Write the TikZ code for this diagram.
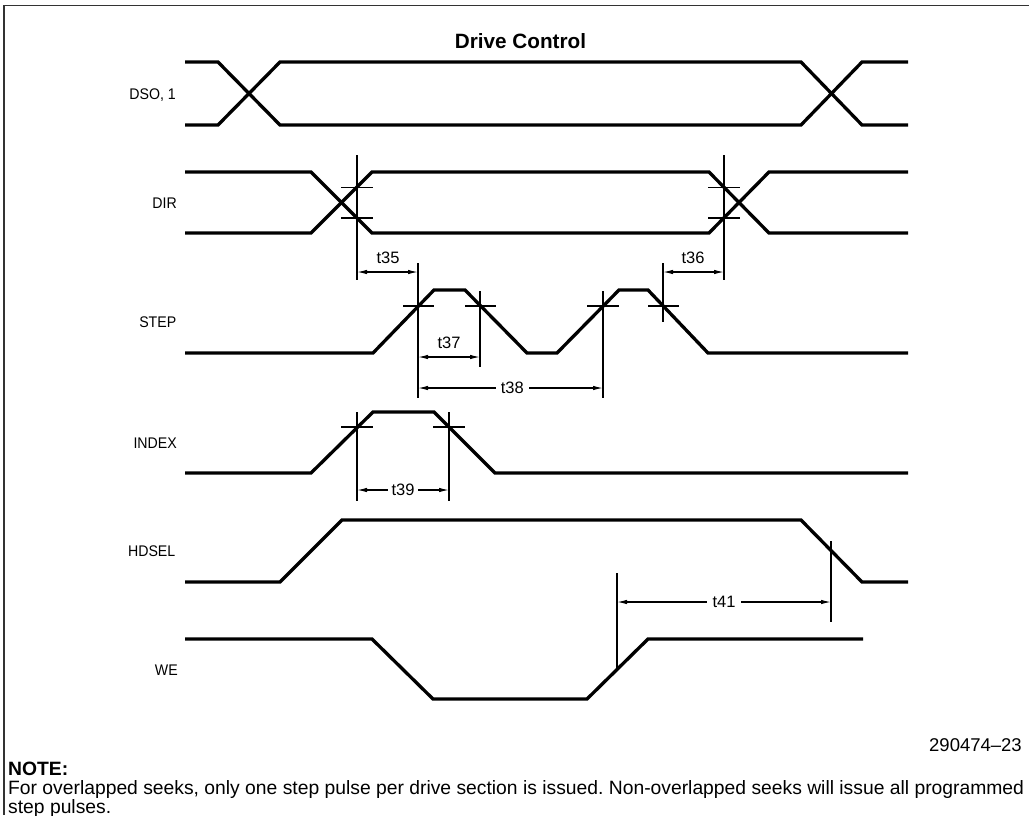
\documentclass[tikz,border=0pt]{standalone}
\usepackage{fontspec}
\setmainfont{Liberation Sans}
\newfontfamily\labfont[FakeStretch=0.92]{Liberation Sans}
\usetikzlibrary{arrows.meta}
\frenchspacing
\begin{document}
\begin{tikzpicture}[x=1pt,y=-1pt,
  wave/.style={line width=3.3pt},
  marker/.style={line width=1.2pt},
  dim/.style={line width=1.2pt,{Latex[length=10pt,width=4.5pt]}-{Latex[length=10pt,width=4.5pt]}},
  sig/.style={font=\labfont\fontsize{15.4}{15.4}\selectfont, anchor=base east, inner sep=0pt},
  tlab/.style={font=\fontsize{16.5}{16.5}\selectfont, inner sep=0pt},
  tgap/.style={font=\fontsize{16.5}{16.5}\selectfont, fill=white, inner xsep=5pt, inner ysep=1pt},
  note/.style={font=\fontsize{19.3}{19.3}\selectfont, anchor=base west, inner sep=0pt}]
\useasboundingbox (0,0) rectangle (1029,815);
% frame
\draw[line width=1.5pt, black!80] (1029,5.5) -- (4,5.5) -- (4,815);
% title
\node[font=\bfseries\fontsize{20.7}{20.7}\selectfont] (title) at (520.5,41) {Drive Control};
% signal labels
\node[sig] (lDSO) at (176,99.5) {DSO, 1};
\node[sig] (lDIR) at (177,208.5) {DIR};
\node[sig] (lSTEP) at (176.5,327.5) {STEP};
\node[sig] (lINDEX) at (177,448.5) {INDEX};
\node[sig] (lHDSEL) at (175.5,556.5) {HDSEL};
\node[sig] (lWE) at (178,675.5) {WE};
% DSO
\draw[wave] (185,62) -- (218,62) -- (280,125) -- (801,125) -- (862,62) -- (908,62);
\draw[wave] (185,125) -- (218,125) -- (280,62) -- (801,62) -- (862,125) -- (908,125);
% DIR
\draw[wave] (185,172) -- (311,172) -- (372,233) -- (709,233) -- (769,172) -- (908,172);
\draw[wave] (185,233) -- (311,233) -- (372,172) -- (709,172) -- (769,233) -- (908,233);
\draw[marker] (357,155) -- (357,280);
\draw[marker] (341,187.5) -- (373,187.5) (341,218) -- (373,218);
\draw[marker] (724,155) -- (724,280);
\draw[marker] (708,187.5) -- (740,187.5) (708,218) -- (740,218);
% STEP
\draw[wave] (185,353) -- (373,353) -- (434,290) -- (465,290) -- (527,353) -- (557,353) -- (619,290) -- (648,290) -- (708,353) -- (908,353);
\draw[marker] (418,263) -- (418,398) (403,306) -- (434,306);
\draw[marker] (480,291) -- (480,367) (465,306) -- (496,306);
\draw[marker] (603,291) -- (603,398) (587,306) -- (619,306);
\draw[marker] (663,263) -- (663,322) (648,306) -- (679,306);
% INDEX
\draw[wave] (185,473) -- (311,473) -- (373,412) -- (434,412) -- (495,473) -- (908,473);
\draw[marker] (357,412) -- (357,501) (341,427) -- (373,427);
\draw[marker] (449,412) -- (449,501) (433,427) -- (465,427);
% HDSEL
\draw[wave] (185,582) -- (280,582) -- (342,520) -- (801,520) -- (862,582) -- (908,582);
\draw[marker] (831,541) -- (831,622);
% WE
\draw[wave] (185,639) -- (372,639) -- (433,699) -- (587,699) -- (648,639) -- (863,639);
\draw[marker] (617,573) -- (617,669);
% dimension end points
\coordinate (a35) at (357,272); \coordinate (b35) at (418,272);
\coordinate (a36) at (663,272); \coordinate (b36) at (724,272);
\coordinate (a37) at (418,357); \coordinate (b37) at (480,357);
\coordinate (a38) at (418,388); \coordinate (b38) at (603,388);
\coordinate (a39) at (357,490); \coordinate (b39) at (449,490);
\coordinate (a41) at (617,602); \coordinate (b41) at (831,602);
\draw[dim] (a35) -- (b35);
\node[tlab] (t35) at (388,258) {t35};
\draw[dim] (a36) -- (b36);
\node[tlab] (t36) at (693,258) {t36};
\draw[dim] (a37) -- (b37);
\node[tlab] (t37) at (449,343) {t37};
\draw[dim] (a38) -- (b38) node[tgap, pos=0.51] (t38) {t38};
\draw[dim] (a39) -- (b39) node[tgap, pos=0.5, inner xsep=4pt] (t39) {t39};
\draw[dim] (a41) -- (b41) node[tgap, pos=0.5, inner xsep=6pt] (t41) {t41};
% figure number and note
\node[font=\fontsize{18.5}{18.5}\selectfont, anchor=base east, inner sep=0pt] (fig) at (1022,751) {290474–23};
\node[note, font=\bfseries\fontsize{19.3}{19.3}\selectfont] (noteh) at (8,775) {NOTE:};
\node[note] (note1) at (8,794) {For overlapped seeks, only one step pulse per drive section is issued. Non-overlapped seeks will issue all programmed};
\node[note] (note2) at (8,813) {step pulses.};
\end{tikzpicture}
\end{document}
